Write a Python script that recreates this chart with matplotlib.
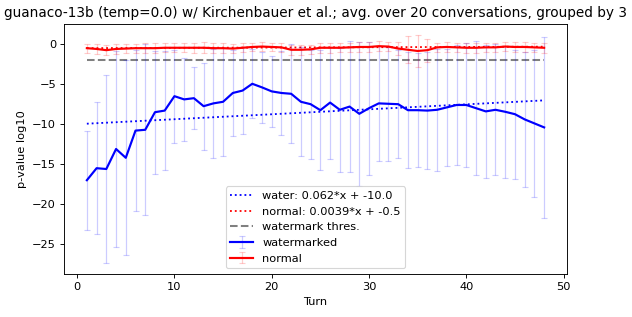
import matplotlib
matplotlib.use("Agg")
import matplotlib.pyplot as plt
import numpy as np

turns = np.arange(1, 49)

water_mean = [-17.0, -15.5, -15.6, -13.1, -14.2, -10.8, -10.7, -8.5, -8.3, -6.5,
              -6.9, -6.75, -7.75, -7.4, -7.2, -6.1, -5.8, -4.95, -5.4, -5.9,
              -6.1, -6.2, -7.2, -7.5, -8.25, -7.3, -8.2, -7.8, -8.7, -8.0,
              -7.4, -7.45, -7.5, -8.25, -8.25, -8.3, -8.2, -7.9, -7.6, -7.6,
              -8.0, -8.4, -8.2, -8.45, -8.75, -9.4, -9.9, -10.4]
water_std = [6.2, 8.25, 11.7, 12.2, 12.2, 10.1, 10.7, 7.7, 7.4, 5.8,
             5.2, 3.85, 5.45, 6.85, 6.75, 5.4, 5.45, 4.3, 4.4, 4.45,
             5.3, 6.2, 6.8, 6.8, 7.5, 7.0, 7.75, 8.15, 9.0, 8.3,
             7.2, 7.1, 6.75, 7.25, 7.15, 7.3, 7.6, 7.3, 7.5, 7.7,
             8.4, 8.3, 8.2, 8.25, 8.05, 8.4, 9.2, 11.35]

normal_mean = [-0.5, -0.6, -0.75, -0.6, -0.55, -0.5, -0.5, -0.5, -0.45, -0.45,
               -0.45, -0.45, -0.45, -0.5, -0.5, -0.55, -0.45, -0.35, -0.3, -0.35,
               -0.4, -0.7, -0.7, -0.65, -0.45, -0.45, -0.45, -0.4, -0.35, -0.35,
               -0.25, -0.3, -0.55, -0.7, -0.85, -0.75, -0.4, -0.35, -0.4, -0.45,
               -0.45, -0.4, -0.4, -0.3, -0.35, -0.35, -0.4, -0.45]
normal_std = [0.55, 0.65, 0.65, 0.6, 0.6, 0.55, 0.6, 0.6, 0.55, 0.55,
              0.55, 0.6, 0.7, 0.6, 0.6, 0.6, 0.55, 0.55, 0.6, 0.55,
              0.55, 0.6, 0.6, 0.6, 0.6, 0.6, 0.55, 0.6, 0.6, 0.6,
              0.6, 0.6, 0.8, 1.7, 1.95, 1.45, 0.6, 0.6, 0.55, 0.6,
              0.6, 0.55, 0.6, 0.6, 0.65, 0.6, 0.6, 0.6]

water_fit = (0.062, -10.0)
normal_fit = (0.0039, -0.5)
threshold = -2.0

dpi = 82
fig = plt.figure(figsize=(632 / dpi, 317 / dpi), dpi=dpi)
ax = fig.add_axes([64 / 632, 1 - 274 / 317, 503 / 632, 250 / 317])

ax.plot(turns, water_fit[0] * turns + water_fit[1], ':', color='blue', lw=1.6,
        label=f'water: {water_fit[0]}*x + {water_fit[1]}')
ax.plot(turns, normal_fit[0] * turns + normal_fit[1], ':', color='red', lw=1.6,
        label=f'normal: {normal_fit[0]}*x + {normal_fit[1]}')
ax.plot(turns, np.full(len(turns), threshold), '--', color='gray', lw=1.8,
        label='watermark thres.')

ax.errorbar(turns, water_mean, yerr=water_std, color='blue', lw=1.9,
            ecolor=(0, 0, 1, 0.2), elinewidth=1.1, capsize=2.6, label='watermarked')
ax.errorbar(turns, normal_mean, yerr=normal_std, color='red', lw=1.9,
            ecolor=(1, 0, 0, 0.2), elinewidth=1.1, capsize=2.6, label='normal')

ax.set_xlabel("Turn")
ax.set_ylabel("p-value log10")
ax.set_title("guanaco-13b (temp=0.0) w/ Kirchenbauer et al.; avg. over 20 conversations, grouped by 3")
ax.legend(loc='lower center', bbox_to_anchor=(0.5, 0.0))

fig.savefig("out.png", dpi=dpi)
